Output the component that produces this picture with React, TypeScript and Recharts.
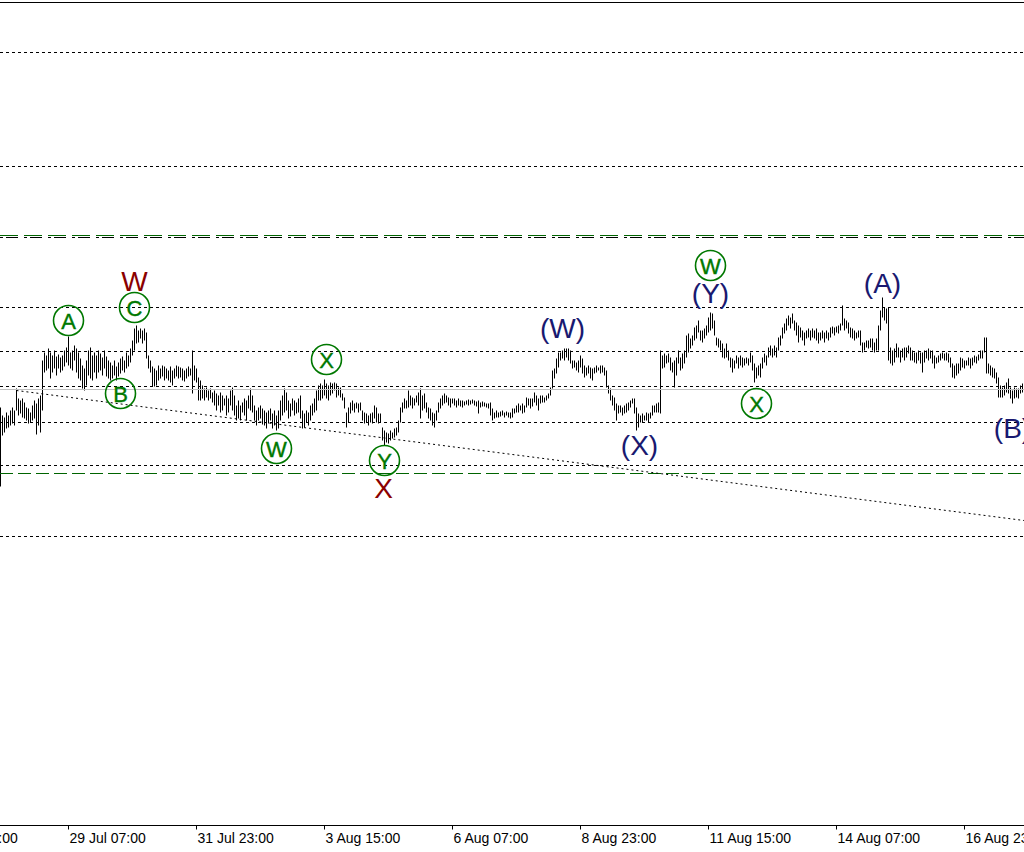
import React from "react";
import {
  ComposedChart,
  Bar,
  XAxis,
  YAxis,
  ReferenceLine,
  ReferenceDot,
} from "recharts";

// hourly bar highs / lows (price points), one entry per H1 bar
const highs = [
  418, 410, 408, 413, 410, 415, 418, 415, 437, 427, 425, 427, 423, 418, 417, 413,
  420, 425, 422, 427, 430, 465, 473, 470, 477, 473, 470, 475, 469, 471, 468, 470,
  475, 478, 489, 473, 475, 480, 477, 473, 467, 460, 457, 465, 475, 478, 470, 473,
  470, 475, 472, 468, 475, 469, 465, 463, 460, 465, 459, 463, 467, 469, 465, 473,
  470, 477, 485, 497, 500, 495, 497, 495, 497, 493, 470, 465, 459, 457, 455, 460,
  457, 460, 459, 457, 455, 459, 455, 457, 460, 459, 458, 457, 455, 457, 459, 457,
  475, 460, 457, 448, 445, 440, 437, 438, 435, 437, 433, 435, 432, 430, 433, 430,
  427, 430, 427, 435, 438, 430, 420, 425, 420, 423, 427, 425, 430, 437, 430, 420,
  415, 418, 420, 417, 415, 413, 415, 417, 412, 415, 410, 415, 425, 430, 437, 433,
  425, 422, 427, 425, 423, 427, 430, 415, 412, 415, 413, 420, 422, 427, 435, 440,
  442, 440, 446, 442, 440, 443, 442, 443, 442, 438, 438, 432, 428, 413, 418, 423,
  425, 422, 423, 422, 423, 415, 413, 412, 410, 412, 413, 420, 418, 412, 412, 398,
  395, 393, 392, 395, 393, 397, 398, 405, 418, 423, 427, 425, 435, 430, 428, 427,
  430, 433, 437, 430, 432, 423, 418, 417, 413, 412, 415, 423, 427, 430, 432, 430,
  428, 427, 427, 427, 425, 427, 425, 425, 424, 425, 426, 425, 426, 425, 424, 425,
  423, 424, 423, 422, 422, 423, 417, 413, 415, 413, 414, 415, 413, 414, 413, 413,
  417, 417, 420, 422, 420, 422, 420, 428, 427, 427, 427, 433, 430, 427, 430, 430,
  428, 430, 432, 438, 455, 457, 467, 473, 473, 475, 477, 477, 477, 475, 465, 465,
  463, 465, 470, 467, 460, 458, 460, 458, 457, 458, 460, 458, 460, 460, 458, 455,
  440, 437, 430, 428, 422, 420, 420, 418, 420, 422, 423, 425, 427, 427, 418, 412,
  410, 412, 410, 413, 412, 413, 420, 420, 422, 423, 475, 470, 472, 470, 472, 468,
  463, 465, 468, 475, 468, 472, 475, 490, 492, 487, 490, 498, 500, 505, 495, 495,
  497, 500, 508, 513, 512, 505, 488, 487, 485, 482, 477, 482, 475, 468, 467, 465,
  470, 468, 470, 468, 467, 468, 467, 473, 470, 462, 458, 460, 462, 468, 472, 470,
  478, 480, 477, 480, 478, 488, 490, 498, 502, 507, 510, 508, 512, 505, 503, 500,
  498, 495, 493, 495, 497, 495, 497, 495, 497, 493, 493, 495, 493, 495, 493, 498,
  499, 498, 499, 500, 502, 520, 507, 505, 503, 498, 497, 495, 493, 495, 495, 483,
  483, 485, 485, 487, 487, 483, 487, 500, 515, 528, 518, 517, 518, 478, 475, 477,
  482, 478, 475, 477, 478, 478, 480, 478, 475, 473, 473, 475, 473, 473, 475, 475,
  477, 475, 475, 470, 468, 470, 472, 473, 472, 473, 472, 468, 462, 460, 462, 462,
  468, 467, 465, 465, 468, 467, 468, 470, 469, 471, 475, 475, 488, 488, 462, 460,
  458, 457, 453, 448, 440, 438, 440, 443, 447, 438, 435, 438, 437, 437, 440, 442,
];

const lows = [
  339, 390, 393, 397, 398, 400, 402, 400, 415, 410, 412, 408, 407, 405, 402, 403,
  405, 407, 391, 400, 393, 415, 453, 455, 457, 447, 453, 457, 450, 457, 453, 455,
  459, 463, 460, 457, 455, 465, 453, 447, 445, 437, 435, 440, 450, 447, 445, 453,
  447, 453, 455, 450, 457, 449, 447, 445, 447, 450, 445, 449, 452, 455, 453, 457,
  459, 463, 470, 475, 482, 483, 487, 482, 485, 467, 457, 453, 439, 439, 440, 445,
  447, 449, 445, 447, 445, 443, 440, 447, 449, 447, 448, 445, 444, 447, 449, 450,
  432, 445, 443, 425, 425, 427, 425, 428, 425, 427, 423, 420, 415, 420, 413, 415,
  420, 410, 413, 420, 415, 410, 405, 407, 405, 413, 410, 405, 417, 415, 413, 405,
  400, 405, 407, 401, 400, 397, 402, 405, 397, 400, 395, 397, 405, 410, 413, 415,
  407, 409, 415, 410, 412, 413, 407, 397, 398, 403, 400, 405, 410, 413, 415, 425,
  425, 427, 430, 427, 425, 430, 432, 435, 428, 430, 428, 425, 417, 398, 403, 412,
  415, 413, 417, 413, 415, 405, 402, 403, 400, 403, 402, 407, 403, 402, 403, 385,
  380, 383, 382, 385, 387, 388, 390, 393, 403, 413, 417, 417, 418, 420, 417, 420,
  423, 420, 407, 415, 417, 413, 407, 405, 400, 398, 405, 413, 417, 420, 422, 423,
  420, 418, 422, 420, 418, 420, 419, 418, 420, 421, 420, 421, 422, 420, 419, 412,
  418, 419, 419, 418, 417, 410, 405, 407, 408, 408, 409, 410, 408, 410, 408, 407,
  408, 412, 413, 413, 415, 412, 413, 418, 420, 417, 419, 423, 420, 415, 422, 423,
  423, 425, 427, 430, 437, 447, 452, 458, 465, 467, 465, 468, 465, 462, 457, 458,
  455, 453, 458, 452, 448, 450, 452, 447, 445, 452, 453, 455, 452, 453, 450, 438,
  432, 425, 420, 415, 405, 412, 413, 410, 412, 413, 415, 418, 422, 412, 395, 398,
  403, 403, 405, 405, 403, 407, 410, 413, 413, 413, 412, 457, 458, 462, 463, 455,
  453, 438, 450, 462, 455, 457, 462, 468, 473, 477, 480, 485, 487, 493, 485, 483,
  487, 490, 493, 495, 497, 490, 480, 478, 475, 468, 467, 468, 465, 458, 453, 457,
  462, 457, 460, 458, 460, 462, 460, 463, 455, 443, 447, 450, 448, 457, 463, 460,
  468, 470, 468, 470, 468, 475, 480, 487, 492, 495, 500, 497, 502, 495, 490, 483,
  488, 485, 480, 487, 488, 485, 488, 487, 485, 482, 485, 487, 483, 487, 485, 488,
  492, 490, 493, 492, 495, 500, 495, 497, 492, 488, 487, 485, 487, 488, 480, 473,
  475, 478, 477, 478, 475, 473, 475, 475, 495, 508, 505, 502, 465, 462, 460, 463,
  468, 468, 463, 468, 465, 468, 472, 465, 465, 463, 462, 465, 462, 453, 463, 467,
  465, 467, 462, 457, 462, 463, 465, 467, 465, 465, 463, 458, 448, 447, 450, 452,
  455, 458, 457, 460, 460, 457, 460, 463, 462, 465, 467, 467, 473, 452, 452, 450,
  448, 447, 442, 428, 428, 428, 430, 433, 432, 427, 422, 427, 428, 427, 432, 433,
];

// time axis: bar index of each label and its text
const tickBars = [-30, 34, 98, 162, 226, 290, 354, 418, 482];
const tickLabels = [
  "26 Jul 15:00",
  "29 Jul 07:00",
  "31 Jul 23:00",
  "3 Aug 15:00",
  "6 Aug 07:00",
  "8 Aug 23:00",
  "11 Aug 15:00",
  "14 Aug 07:00",
  "16 Aug 23:00",
];

// horizontal price levels
const dottedLevels = [773, 659, 518, 474, 439, 403, 360, 289];
const dashDotLevels = [588];
const upperGreenLevels = [590];
const lowerGreenLevels = [352];
const bidLevels = [436];
const frameLevel = 823;

// trend line anchors (bar index, price)
const trendFrom = { bar: 8, price: 435 };
const trendTo = { bar: 511.75, price: 305 };

// wave labels (bar index, price)
const minorWaves = [
  { text: "A", bar: 34, price: 505 },
  { text: "C", bar: 67, price: 518 },
  { text: "B", bar: 60, price: 432 },
  { text: "W", bar: 138, price: 377 },
  { text: "X", bar: 163, price: 466 },
  { text: "Y", bar: 192, price: 365 },
  { text: "W", bar: 355, price: 560 },
  { text: "X", bar: 378, price: 422 },
];
const primaryWaves = [
  { text: "W", bar: 67, price: 545 },
  { text: "X", bar: 191.5, price: 338 },
];
const intermediateWaves = [
  { text: "(W)", bar: 281, price: 498 },
  { text: "(X)", bar: 319.5, price: 381 },
  { text: "(Y)", bar: 355, price: 533 },
  { text: "(A)", bar: 441, price: 543 },
  { text: "(B)", bar: 506, price: 398 },
];

const bars = highs.map((h, i) => ({ i, range: [lows[i], h] }));

const FONT = "'Liberation Sans', Arial, sans-serif";

const Stick = (props: any) => {
  const { x, y, width, height } = props;
  if (height == null || isNaN(y)) return null;
  const cx = Math.floor(x + (width || 0) / 2) + 0.5;
  return <line x1={cx} x2={cx} y1={y} y2={y + height} stroke="#000" strokeWidth={1} />;
};

const DateTick = (props: any) => {
  const { x, y, payload } = props;
  const k = tickBars.indexOf(payload.value);
  return (
    <text x={x + 1} y={y + 13.5} fontSize={14} fontFamily={FONT} fill="#000">
      {tickLabels[k]}
    </text>
  );
};

const circled = (text: string) => (p: any) => (
  <g>
    <circle cx={p.cx} cy={p.cy} r={15} fill="none" stroke="#007800" strokeWidth={1.6} />
    <text
      x={p.cx}
      y={p.cy + 8}
      textAnchor="middle"
      fontSize={22}
      fontFamily={FONT}
      fill="#007800"
      stroke="#007800"
      strokeWidth={0.4}
    >
      {text}
    </text>
  </g>
);

const plain = (text: string, color: string) => (p: any) => (
  <text x={p.cx} y={p.cy + 10} textAnchor="middle" fontSize={28} fontFamily={FONT} fill={color}>
    {text}
  </text>
);

export default function App() {
  return (
    <div style={{ width: 1024, height: 852, background: "#fff" }}>
      <style>{"body{margin:0}"}</style>
      <ComposedChart
        width={1024}
        height={852}
        data={bars}
        margin={{ top: 2.5, right: 0, left: 0, bottom: 0.5 }}
      >
        <XAxis
          dataKey="i"
          type="number"
          domain={[-0.25, 511.75]}
          allowDataOverflow
          ticks={tickBars}
          interval={0}
          height={26}
          tickSize={4}
          tickMargin={0}
          axisLine={{ stroke: "#000" }}
          tickLine={{ stroke: "#000" }}
          tick={<DateTick />}
        />
        <YAxis hide type="number" domain={[0, 823]} allowDataOverflow />

        <ReferenceLine y={frameLevel} stroke="#000" />
        {dottedLevels.map((v) => (
          <ReferenceLine key={"d" + v} y={v} stroke="#000" strokeDasharray="3 3" />
        ))}
        {upperGreenLevels.map((v) => (
          <ReferenceLine key={"g" + v} y={v} stroke="#006400" strokeDasharray="18 6" />
        ))}
        {dashDotLevels.map((v) => (
          <ReferenceLine key={"dd" + v} y={v} stroke="#000" strokeDasharray="3 3 12 6" />
        ))}
        {bidLevels.map((v) => (
          <ReferenceLine key={"b" + v} y={v} stroke="#c0c0c0" />
        ))}
        {lowerGreenLevels.map((v) => (
          <ReferenceLine key={"lg" + v} y={v} stroke="#006400" strokeDasharray="13 5" />
        ))}
        <ReferenceLine
          segment={[
            { x: trendFrom.bar, y: trendFrom.price },
            { x: trendTo.bar, y: trendTo.price },
          ]}
          stroke="#000"
          strokeDasharray="2 3"
        />

        <Bar dataKey="range" shape={<Stick />} isAnimationActive={false} />

        {minorWaves.map((w, k) => (
          <ReferenceDot key={"m" + k} x={w.bar} y={w.price} r={0} shape={circled(w.text)} />
        ))}
        {primaryWaves.map((w, k) => (
          <ReferenceDot key={"p" + k} x={w.bar} y={w.price} r={0} shape={plain(w.text, "#8b0000")} />
        ))}
        {intermediateWaves.map((w, k) => (
          <ReferenceDot key={"i" + k} x={w.bar} y={w.price} r={0} shape={plain(w.text, "#191970")} />
        ))}
      </ComposedChart>
    </div>
  );
}
